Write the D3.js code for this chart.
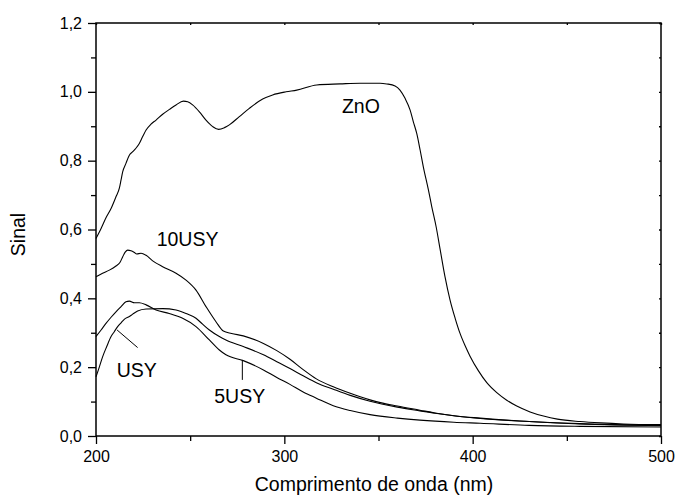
<!DOCTYPE html>
<html>
<head>
<meta charset="utf-8">
<script src="https://cdn.jsdelivr.net/npm/d3@7"></script>
<style>
  html, body { margin: 0; padding: 0; background: #fff; }
  svg { display: block; font-family: "Liberation Sans", Arial, sans-serif; }
</style>
</head>
<body>
<svg id="chart" width="675" height="502"></svg>
<script>
// Diffuse-reflectance style spectra: signal vs wavelength (nm)
const seriesNames = ["ZnO", "10USY", "USY", "5USY"];

const zno = [
  [200,0.574],[202.7,0.603],[205.3,0.634],[208,0.661],[210.6,0.695],[212.4,0.720],
  [213.3,0.744],[214.2,0.768],[215.9,0.792],[217.7,0.816],[219.5,0.826],[221.2,0.836],
  [223,0.850],[224.8,0.870],[226.6,0.889],[229.2,0.906],[231.9,0.918],[235.4,0.935],
  [239,0.949],[242.5,0.962],[246.4,0.973],[248.7,0.971],[251.3,0.962],[254.9,0.942],
  [258.4,0.918],[262,0.899],[265.1,0.891],[268.2,0.896],[270.8,0.904],[276.1,0.928],
  [281.4,0.952],[288.5,0.979],[293.8,0.991],[300.9,1.000],[306.6,1.005],[317.2,1.020],
  [329.6,1.023],[340.2,1.025],[350.8,1.025],[354.4,1.023],[358.8,1.017],[361.4,1.005],
  [364.1,0.981],[366.8,0.947],[368.5,0.913],[370.3,0.879],[372.1,0.831],[373.8,0.782],
  [376.5,0.715],[378.3,0.666],[380.6,0.608],[382.7,0.543],[385.3,0.463],[388,0.395],
  [390.7,0.342],[393.3,0.298],[396,0.262],[398.6,0.232],[403,0.190],[407.5,0.155],
  [412.8,0.126],[418.1,0.104],[423.4,0.087],[430.5,0.070],[437.6,0.058],[445,0.049],
  [457,0.042],[468,0.038],[480,0.035],[500,0.033]
];

const usy10 = [
  [200,0.463],[203.5,0.473],[207.1,0.482],[210.6,0.494],[212.7,0.504],[214.2,0.521],
  [215.6,0.535],[216.8,0.540],[218.6,0.538],[220.4,0.533],[221.6,0.529],[223.9,0.531],
  [226.6,0.525],[230.1,0.509],[235.4,0.492],[242.5,0.473],[247.8,0.453],[253.1,0.424],
  [258.4,0.376],[263.7,0.332],[267.6,0.305],[272,0.298],[278.2,0.291],[288.9,0.269],
  [296,0.248],[303,0.223],[310,0.193],[317,0.166],[326,0.143],[335,0.124],
  [345.5,0.105],[351,0.097],[360,0.087],[372,0.075],[380,0.067],[390,0.059],
  [404,0.052],[430,0.042],[457,0.036],[500,0.031]
];

const usy = [
  [200,0.172],[201.8,0.201],[203.5,0.230],[205.7,0.260],[208,0.289],[209.7,0.303],
  [211.5,0.318],[213.3,0.329],[215,0.339],[217.7,0.347],[219.5,0.354],[222.1,0.363],
  [226.6,0.369],[235.4,0.370],[242.5,0.366],[247.8,0.356],[253.1,0.342],[256.6,0.325],
  [260.2,0.308],[265.5,0.289],[269,0.279],[278.2,0.260],[288.9,0.236],[296,0.216],
  [303,0.196],[310,0.175],[317,0.155],[326,0.136],[335,0.118],[345.5,0.101],
  [360,0.084],[372,0.073],[380,0.066],[404,0.051],[430,0.042],[457,0.035],[500,0.030]
];

const usy5 = [
  [200,0.289],[202.7,0.308],[205.3,0.327],[208,0.345],[210.6,0.361],[213.3,0.376],
  [215.9,0.390],[217.7,0.392],[220.4,0.387],[223,0.387],[226.6,0.381],[231.9,0.366],
  [238.9,0.356],[246,0.342],[253.1,0.318],[260.2,0.279],[265.5,0.250],[269,0.236],
  [278.2,0.219],[288.9,0.192],[296,0.170],[303,0.150],[310,0.128],[317,0.110],
  [326,0.088],[335,0.074],[345.5,0.062],[360,0.052],[372,0.046],[390,0.040],
  [404,0.037],[430,0.031],[457,0.028],[500,0.026]
];

const seriesData = [zno, usy10, usy, usy5];

// Tick values
const xTicks = [200, 300, 400, 500];
const xMinorTicks = [250, 350, 450];
const yTicks = [0, 0.2, 0.4, 0.6, 0.8, 1.0, 1.2];
const yMinorTicks = [0.1, 0.3, 0.5, 0.7, 0.9, 1.1];

// Curve labels placed in data coordinates; leaders point at the curve
const labelText = ["ZnO", "10USY", "USY", "5USY"];
const labelPos = [[330.6, 0.938], [232.2, 0.552], [211, 0.171], [262.8, 0.097]];
const leaderLines = [
  [[211.2, 0.308], [222.1, 0.257]],
  [[277.7, 0.221], [277.7, 0.163]]
];

const svg = d3.select("#chart");
const margin = { left: 96, right: 14, top: 23, bottom: 66 };
const W = 675, H = 502;

const x = d3.scaleLinear().domain([200, 500]).range([margin.left, W - margin.right]);
const y = d3.scaleLinear().domain([0, 1.2]).range([H - margin.bottom, margin.top]);

const ptBR = d3.formatLocale({ decimal: ",", thousands: ".", grouping: [3], currency: ["", ""] });
const yFmt = ptBR.format(".1f");

const axisFont = 16;

// Bottom axis: major + minor ticks outward
const gx = svg.append("g").attr("transform", `translate(0,${y(0)})`);
gx.call(d3.axisBottom(x).tickValues(xTicks).tickSize(8).tickPadding(7).tickFormat(d3.format("d")));
gx.append("g").call(d3.axisBottom(x).tickValues(xMinorTicks).tickSize(5).tickFormat(""));

// Left axis
const gy = svg.append("g").attr("transform", `translate(${x(200)},0)`);
gy.call(d3.axisLeft(y).tickValues(yTicks).tickSize(8).tickPadding(6).tickFormat(yFmt));
gy.append("g").call(d3.axisLeft(y).tickValues(yMinorTicks).tickSize(5).tickFormat(""));

// Top and right axes: tiny inward ticks, no labels
const gt = svg.append("g").attr("transform", `translate(0,${y(1.2)})`);
gt.call(d3.axisTop(x).tickValues(xTicks.concat(xMinorTicks)).tickSize(-2).tickFormat(""));
const gr = svg.append("g").attr("transform", `translate(${x(500)},0)`);
gr.call(d3.axisRight(y).tickValues(yTicks.concat(yMinorTicks)).tickSize(-2).tickFormat(""));

svg.selectAll(".domain").remove();
svg.selectAll(".tick line").attr("stroke", "#000").attr("stroke-width", 1.3);
svg.selectAll(".tick text")
  .attr("fill", "#000")
  .style("font-size", axisFont + "px")
  .style("font-family", '"Liberation Sans", Arial, sans-serif');

// Frame
svg.append("rect")
  .attr("x", x(200)).attr("y", y(1.2))
  .attr("width", x(500) - x(200)).attr("height", y(0) - y(1.2))
  .attr("fill", "none").attr("stroke", "#000").attr("stroke-width", 1.5);

// Curves
const line = d3.line()
  .x(d => x(d[0]))
  .y(d => y(d[1]))
  .curve(d3.curveMonotoneX);

svg.append("g").selectAll("path")
  .data(seriesData)
  .join("path")
  .attr("d", line)
  .attr("fill", "none")
  .attr("stroke", "#000")
  .attr("stroke-width", 1.1);

// Curve labels
svg.append("g").selectAll("text")
  .data(labelText)
  .join("text")
  .attr("x", (d, i) => x(labelPos[i][0]))
  .attr("y", (d, i) => y(labelPos[i][1]))
  .attr("fill", "#000")
  .style("font-size", "19.5px")
  .text(d => d);

svg.append("g").selectAll("line")
  .data(leaderLines)
  .join("line")
  .attr("x1", d => x(d[0][0])).attr("y1", d => y(d[0][1]))
  .attr("x2", d => x(d[1][0])).attr("y2", d => y(d[1][1]))
  .attr("stroke", "#000").attr("stroke-width", 1);

// Axis titles
svg.append("text")
  .attr("x", 374).attr("y", 491)
  .attr("text-anchor", "middle")
  .attr("fill", "#000")
  .style("font-size", "19.5px")
  .text("Comprimento de onda (nm)");

svg.append("text")
  .attr("transform", `translate(25,${(y(0) + y(1.2)) / 2 + 5}) rotate(-90)`)
  .attr("text-anchor", "middle")
  .attr("fill", "#000")
  .style("font-size", "19.5px")
  .text("Sinal");
</script>
</body>
</html>
